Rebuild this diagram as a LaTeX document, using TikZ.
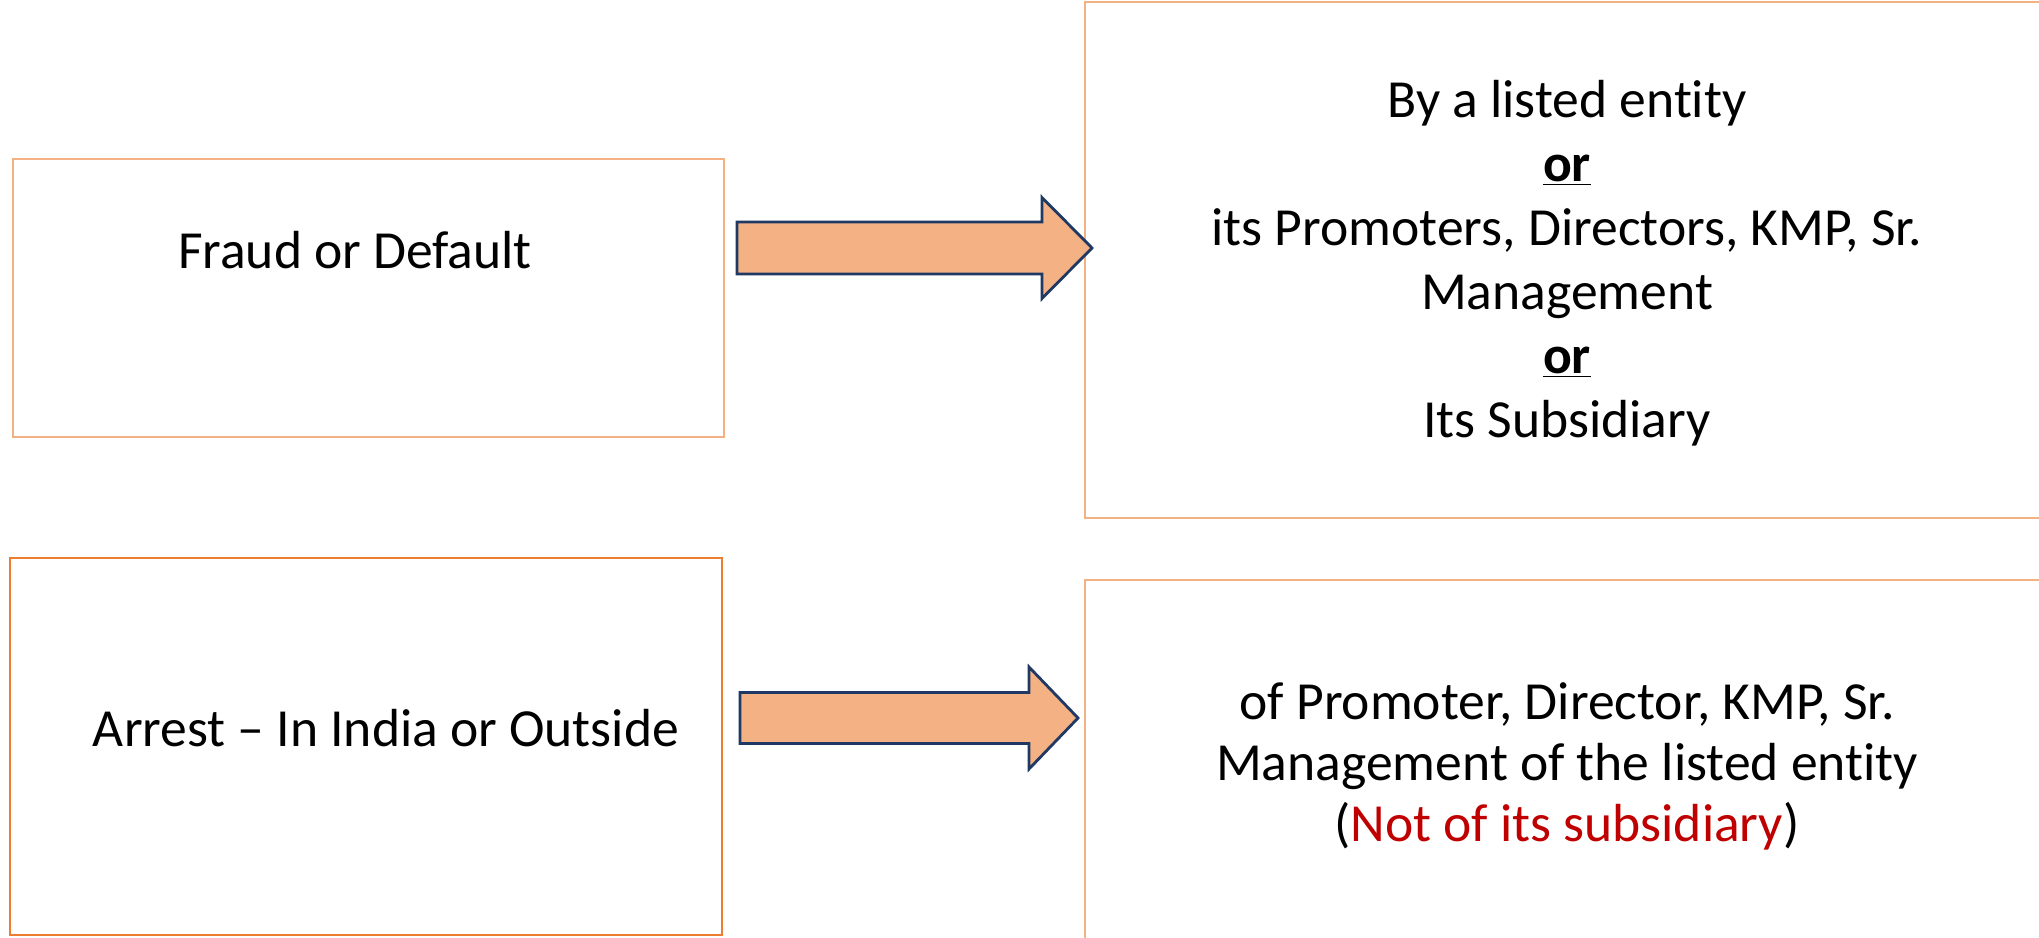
\documentclass[tikz,border=0pt]{standalone}
\usepackage{fontspec}
\setmainfont{Carlito}[Ligatures={TeX,NoCommon}]
\definecolor{lorange}{HTML}{F4B183}
\definecolor{dorange}{HTML}{ED7D31}
\definecolor{navy}{HTML}{1F3864}
\definecolor{dred}{HTML}{C00000}
\begin{document}
\begin{tikzpicture}[x=0.5pt,y=-0.5pt,
  boxA/.style={draw=lorange, line width=1pt, inner sep=0pt},
  boxC/.style={draw=dorange, line width=1pt, inner sep=0pt},
  txt/.style={font=\fontsize{26.8}{32}\selectfont, align=center, inner sep=0pt},
  blockarrow/.style={draw=navy, fill=lorange, line width=1.4pt, line join=miter}]
\useasboundingbox (0,0) rectangle (2039,937);
% boxes
\node[boxA, minimum width=355.5pt, minimum height=139pt] (fraudbox) at (368.5,298) {};
\node[boxA, minimum width=482pt, minimum height=258pt] (bybox) at (2050,260) [anchor=east] {};
\node[boxC, minimum width=356pt, minimum height=188.5pt] (arrestbox) at (366,746.5) {};
\node[boxA, minimum width=482pt, minimum height=182.5pt] (ofbox) at (2050,762.5) [anchor=east] {};
% texts
\node[txt] (fraudtxt) at (355,250) {Fraud or Default};
\node[txt] (arresttxt) at (386,728) {Arrest – In India or Outside};
\node[txt] (bytxt) at (1567,263) {By a listed entity\\ \underline{\textbf{or}}\\ its Promoters, Directors, KMP, Sr.\\ Management\\ \underline{\textbf{or}}\\ Its Subsidiary};
\node[txt, font=\fontsize{26.8}{30.5}\selectfont] (oftxt) at (1567,766) {of Promoter, Director, KMP, Sr.\\ Management of the listed entity\\ (\textcolor{dred}{Not of its subsidiary})};
% block arrows
\coordinate (a1s) at (737,248);
\coordinate (a1e) at (1092,248);
\draw[blockarrow] ([yshift=13pt]a1s) -- ([xshift=-25pt,yshift=13pt]a1e) -- ([xshift=-25pt,yshift=25.25pt]a1e) -- (a1e) -- ([xshift=-25pt,yshift=-25.25pt]a1e) -- ([xshift=-25pt,yshift=-13pt]a1e) -- ([yshift=-13pt]a1s) -- cycle;
\coordinate (a2s) at (740,718);
\coordinate (a2e) at (1078,718);
\draw[blockarrow] ([yshift=12.75pt]a2s) -- ([xshift=-24.5pt,yshift=12.75pt]a2e) -- ([xshift=-24.5pt,yshift=25.5pt]a2e) -- (a2e) -- ([xshift=-24.5pt,yshift=-25.5pt]a2e) -- ([xshift=-24.5pt,yshift=-12.75pt]a2e) -- ([yshift=-12.75pt]a2s) -- cycle;
\end{tikzpicture}
\end{document}
